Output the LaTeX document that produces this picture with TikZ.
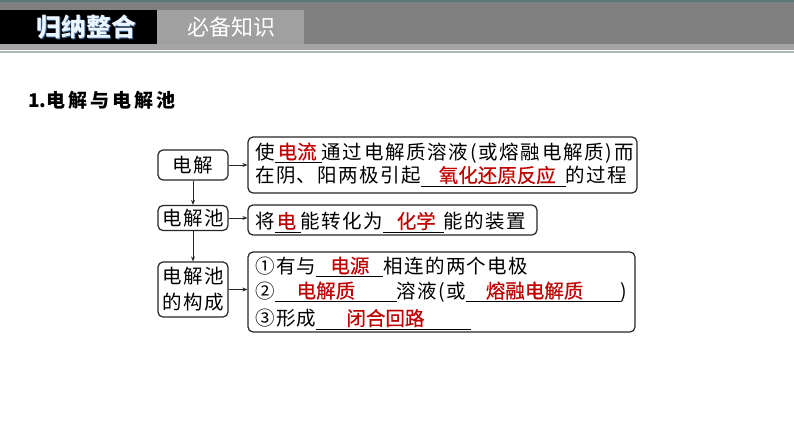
\documentclass[tikz,border=0pt]{standalone}
\usepackage{fontspec}
\usetikzlibrary{arrows.meta}
\newfontfamily\cjk[LetterSpace=7]{Noto Sans CJK SC}
\newfontfamily\cjkwide[LetterSpace=8.8]{Noto Sans CJK SC}
\newfontfamily\cjkred[FakeBold=0.4]{Noto Sans CJK SC}
\newfontfamily\cjkhead[LetterSpace=16]{Noto Sans CJK SC}
\newfontfamily\cjkplain{Noto Sans CJK SC}
\definecolor{answer}{RGB}{192,0,0}
\definecolor{linegrey}{RGB}{38,38,38}
\definecolor{headteal}{RGB}{90,120,120}
\definecolor{bandgrey}{RGB}{128,128,128}
\definecolor{striplight}{RGB}{165,165,165}
\definecolor{tablight}{RGB}{160,160,160}
\definecolor{tabshadow}{RGB}{60,100,150}
\newcommand\blank[3]{\makebox[0pt][l]{\rule[-4pt]{#1pt}{0.7pt}}\makebox[#1pt][l]{\hspace*{#2pt}\textcolor{answer}{\cjkred #3}}}
\tikzset{
  lbox/.style={draw=linegrey, line width=1.2pt, rounded corners=5pt, minimum width=70pt, inner sep=0pt, align=center, font=\cjk\fontsize{19.5}{26}\selectfont},
  rbox/.style={draw=linegrey, line width=1.2pt, rounded corners=5pt, inner sep=0pt},
  lineitem/.style={anchor=base west, inner sep=0pt, font=\cjk\fontsize{19.5}{26}\selectfont},
  arr/.style={draw=linegrey, line width=0.9pt, -{Stealth[length=5pt,width=4pt]}}
}
\begin{document}
\begin{tikzpicture}[x=1pt,y=-1pt]
\useasboundingbox (0,0) rectangle (794,447);

\fill[headteal] (0,0) rectangle (794,2);
\fill[bandgrey] (0,2) rectangle (794,44);
\fill[striplight] (0,44) rectangle (794,50);
\fill[headteal!50] (0,51) rectangle (794,53);
\fill[black] (0,10) rectangle (157,44);
\fill[tablight] (157,10) rectangle (304,44);
\node[inner sep=0pt, text=tabshadow, font=\cjkplain\bfseries\fontsize{25}{25}\selectfont] (tabshade) at (87.5,28.5) {归纳整合};
\node[inner sep=0pt, text={rgb,255:red,235;green,245;blue,255}, font=\cjkplain\bfseries\fontsize{25}{25}\selectfont] (tabmain) at (86,27) {归纳整合};
\node[inner sep=0pt, text=white, font=\cjkplain\fontsize{22}{22}\selectfont] (tabside) at (231,27) {必备知识};

\node[anchor=base west, inner sep=0pt, font=\cjkhead\bfseries\fontsize{19}{20}\selectfont] (sec) at (28,107) {{\cjkplain 1.}电解与电解池};

\node[lbox, minimum height=30pt] (dj) at (193,165) {电解};
\node[lbox, minimum height=25pt] (djc) at (193,218) {电解池};
\node[lbox, minimum height=55pt] (gc) at (193,289.5) {电解池\\的构成};

\node[rbox, minimum width=389pt, minimum height=56pt] (proc) at (442.5,165) {};
\node[rbox, minimum width=289pt, minimum height=30pt] (dev) at (392.5,220) {};
\node[rbox, minimum width=387pt, minimum height=80pt] (parts) at (441.5,292) {};

\node[lineitem] (proc1) at (255,159) {使\blank{47}{3}{电流}{\cjkwide 通过电解质溶液(或熔融电解质)而}};
\node[lineitem] (proc2) at (255,182.5) {在阴、阳两极引起\blank{145}{18}{氧化还原反应}的过程};
\node[lineitem] (dev1) at (255,228.5) {将\blank{26}{2}{电}能转化为\blank{61}{14}{化学}能的装置};
\node[lineitem] (parts1) at (255,273) {①有与\blank{67}{14}{电源}相连的两个电极};
\node[lineitem] (parts2) at (255,298) {②\blank{122}{22}{电解质}溶液(或\blank{155}{20}{熔融电解质})};
\node[lineitem] (parts3) at (255,325.5) {③形成\blank{155}{30}{闭合回路}};

\draw[arr] (dj) -- (proc);
\draw[arr] (djc) -- (djc -| dev.west);
\draw[arr] (gc) -- (gc -| parts.west);
\draw[arr] (dj) -- (djc);
\draw[arr] (djc) -- (gc);

\end{tikzpicture}
\end{document}
